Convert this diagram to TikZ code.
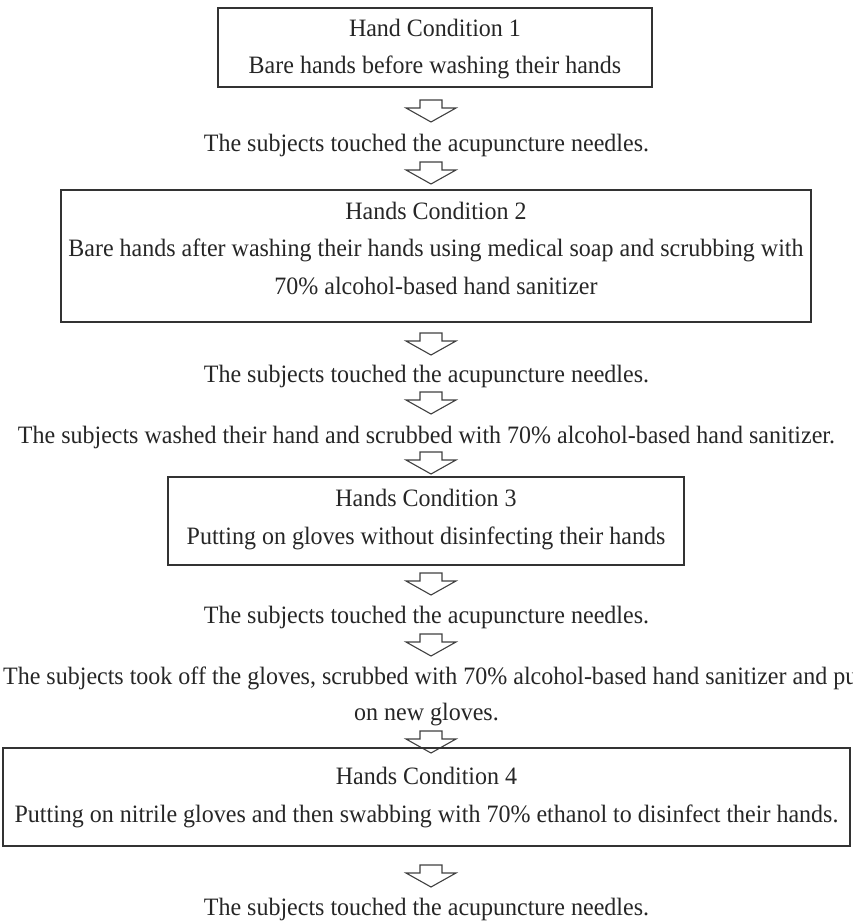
\documentclass[tikz,border=0pt]{standalone}
\usepackage{fontspec}
\setmainfont[FakeStretch=0.96]{Liberation Serif}
\begin{document}
\begin{tikzpicture}[x=1pt,y=-1pt,
  box/.style={draw=black!80, line width=1.4pt, inner sep=0pt, fill=none},
  txt/.style={font=\fontsize{25}{29}\selectfont, text=black!85, inner sep=0pt, anchor=base},
  downarrow/.pic={\draw[draw=black!75, line width=1.1pt, line join=miter, fill=white]
     (-11,-11) -- (-11,-3) -- (-25,-3) -- (0,11) -- (25,-3) -- (11,-3) -- (11,-11) -- cycle;}]
\useasboundingbox (0,0) rectangle (853,922);
% box 1
\node[box, minimum width=434pt, minimum height=79pt] (b1) at (435,47.5) {};
\node[txt] (b1t) at (435,36) {Hand Condition 1};
\node[txt] (b1a) at (435,73) {Bare hands before washing their hands};
\pic (a1) at (431,111) {downarrow};
\node[txt] (t1) at (426.5,151) {The subjects touched the acupuncture needles.};
\pic (a2) at (431,173) {downarrow};
% box 2
\node[box, minimum width=750pt, minimum height=132pt] (b2) at (436,256) {};
\node[txt] (b2t) at (436,219) {Hands Condition 2};
\node[txt] (b2a) at (436,256) {Bare hands after washing their hands using medical soap and scrubbing with};
\node[txt] (b2b) at (436,294) {70\% alcohol-based hand sanitizer};
\pic (a3) at (431,344) {downarrow};
\node[txt] (t2) at (426.5,382) {The subjects touched the acupuncture needles.};
\pic (a4) at (431,403) {downarrow};
\node[txt] (t3) at (426.5,443) {The subjects washed their hand and scrubbed with 70\% alcohol-based hand sanitizer.};
\pic (a5) at (431,463) {downarrow};
% box 3
\node[box, minimum width=516pt, minimum height=88pt] (b3) at (426,521) {};
\node[txt] (b3t) at (426,506) {Hands Condition 3};
\node[txt] (b3a) at (426,544) {Putting on gloves without disinfecting their hands};
\pic (a6) at (431,584) {downarrow};
\node[txt] (t4) at (426.5,623) {The subjects touched the acupuncture needles.};
\pic (a7) at (431,645) {downarrow};
\node[txt, anchor=base west] (t5) at (3,684) {The subjects took off the gloves, scrubbed with 70\% alcohol-based hand sanitizer and put};
\node[txt] (t5b) at (426.5,720) {on new gloves.};
\pic (a8) at (431,742) {downarrow};
% box 4
\node[box, minimum width=847pt, minimum height=98pt] (b4) at (426.5,797) {};
\node[txt] (b4t) at (426.5,784) {Hands Condition 4};
\node[txt] (b4a) at (426.5,822) {Putting on nitrile gloves and then swabbing with 70\% ethanol to disinfect their hands.};
\pic (a9) at (431,876) {downarrow};
\node[txt] (t6) at (426.5,915) {The subjects touched the acupuncture needles.};
\end{tikzpicture}
\end{document}
